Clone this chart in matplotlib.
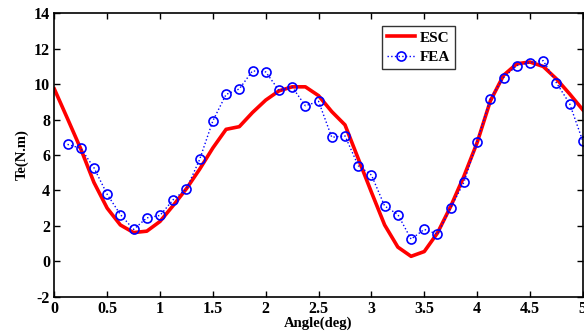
import matplotlib
matplotlib.use('Agg')
import matplotlib.pyplot as plt
import numpy as np

plt.rcParams['font.family'] = ['Liberation Serif', 'DejaVu Serif']
plt.rcParams['font.weight'] = 'bold'
plt.rcParams['axes.unicode_minus'] = False

# ESC (red line), sampled every 0.125 deg
esc_angle = np.arange(0, 5.0001, 0.125)
esc_te = [9.73, 8.05, 6.35, 4.45, 3.0, 2.05, 1.62, 1.7, 2.25, 3.15,
          4.1, 5.2, 6.4, 7.45, 7.6, 8.4, 9.1, 9.62, 9.85, 9.85,
          9.35, 8.45, 7.7, 5.8, 3.9, 2.05, 0.8, 0.28, 0.55, 1.6,
          3.1, 4.8, 6.7, 9.05, 10.5, 11.15, 11.25, 11.0, 10.3, 9.45,
          8.55]

# FEA (blue circles)
fea_angle = np.arange(0.125, 5.0001, 0.125)
fea_te = [6.6, 6.38, 5.28, 3.78, 2.64, 1.8, 2.45, 2.59, 3.48, 4.08,
          5.75, 7.93, 9.42, 9.73, 10.75, 10.69, 9.65, 9.84, 8.78, 9.03,
          7.0, 7.08, 5.4, 4.87, 3.12, 2.64, 1.25, 1.8, 1.53, 3.02,
          4.46, 6.76, 9.18, 10.37, 11.05, 11.22, 11.33, 10.08, 8.9, 6.78]

fig = plt.figure(figsize=(5.84, 3.33), dpi=100)
ax = fig.add_axes([0.093, 0.109, 0.905, 0.851])

ax.plot(esc_angle, esc_te, color='red', lw=2.6, label='ESC')
ax.plot(fea_angle, fea_te, color='blue', lw=1.0, ls=':', marker='o',
        markersize=6.5, markerfacecolor='none', markeredgewidth=1.2, label='FEA')

ax.set_xlim(0, 5)
ax.set_ylim(-2, 14)
ax.set_xticks(np.arange(0, 5.01, 0.5))
ax.set_xticklabels(['0', '0.5', '1', '1.5', '2', '2.5', '3', '3.5', '4', '4.5', '5'])
ax.set_yticks(np.arange(-2, 14.1, 2))
ax.tick_params(direction='in', top=True, right=True, labelsize=11.5, length=4, width=1, pad=3)
for lbl in ax.get_xticklabels() + ax.get_yticklabels():
    lbl.set_fontweight('bold')
for s in ax.spines.values():
    s.set_linewidth(1.2)

ax.set_xlabel('Angle(deg)', fontsize=10.5, fontweight='bold', labelpad=0)
ax.set_ylabel('Te(N.m)', fontsize=10.5, fontweight='bold', labelpad=4)

leg = ax.legend(loc='upper left', bbox_to_anchor=(0.62, 0.956), borderaxespad=0,
                fontsize=11, frameon=True, fancybox=False, edgecolor='black',
                handlelength=1.8, borderpad=0.35, labelspacing=0.35, handletextpad=0.3)
leg.get_frame().set_linewidth(1.0)
for t in leg.get_texts():
    t.set_fontweight('bold')

fig.savefig('out.png', dpi=100)
